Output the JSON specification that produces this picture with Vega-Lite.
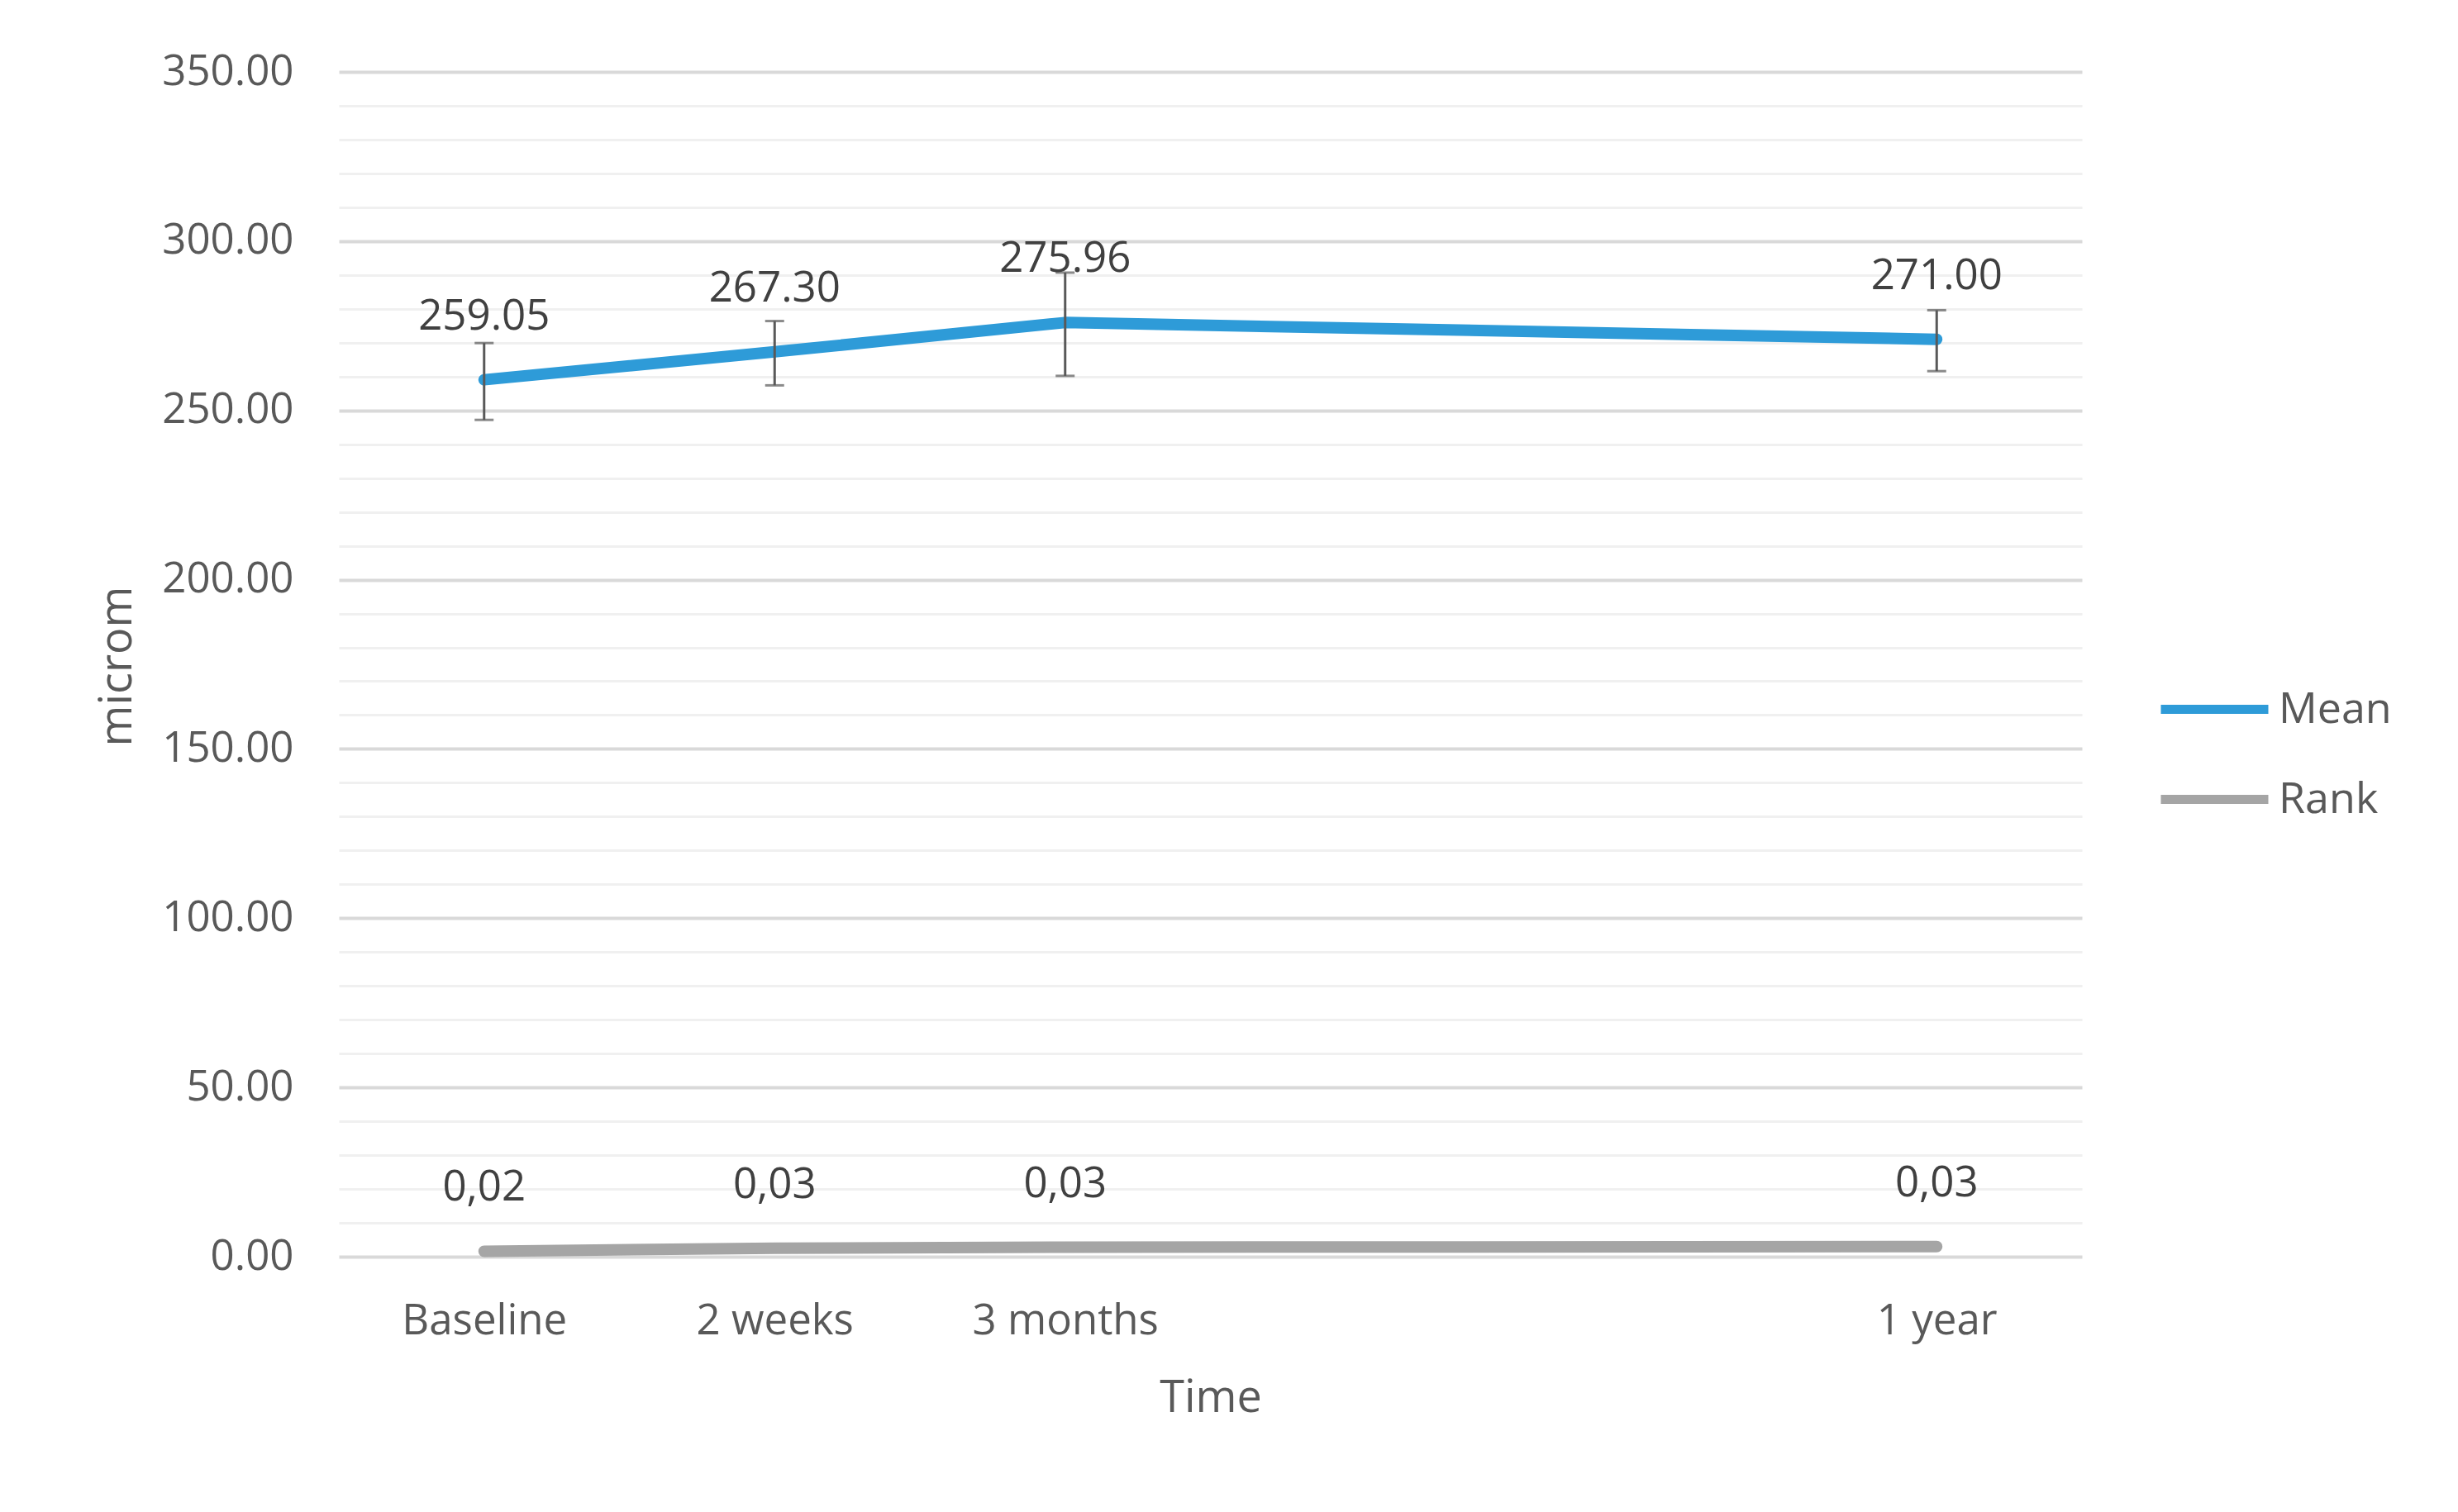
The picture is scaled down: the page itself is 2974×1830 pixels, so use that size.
{
  "$schema": "https://vega.github.io/schema/vega-lite/v6.json",
  "width": 2109,
  "height": 1434,
  "autosize": {"type": "none"},
  "padding": {"left": 410, "top": 87, "right": 455, "bottom": 309},
  "background": "#FFFFFF",
  "config": {
    "font": "Open Sans",
    "view": {"stroke": null},
    "axis": {"labelFont": "Open Sans", "titleFont": "Open Sans"}
  },
  "data": {
    "values": [
      {"time": "Baseline", "series": "Mean", "value": 259.05, "label": "259.05", "lo": 247.2, "hi": 269.9},
      {"time": "2 weeks", "series": "Mean", "value": 267.30, "label": "267.30", "lo": 257.4, "hi": 276.4},
      {"time": "3 months", "series": "Mean", "value": 275.96, "label": "275.96", "lo": 260.2, "hi": 290.7},
      {"time": "1 year", "series": "Mean", "value": 271.00, "label": "271.00", "lo": 261.6, "hi": 279.6},
      {"time": "Baseline", "series": "Rank", "value": 1.6, "label": "0,02"},
      {"time": "2 weeks", "series": "Rank", "value": 2.5, "label": "0,03"},
      {"time": "3 months", "series": "Rank", "value": 2.8, "label": "0,03"},
      {"time": "1 year", "series": "Rank", "value": 3.0, "label": "0,03"}
    ]
  },
  "encoding": {
    "x": {
      "field": "time",
      "type": "ordinal",
      "sort": null,
      "scale": {"type": "point", "domain": ["Baseline", "2 weeks", "3 months", "_4", "_5", "1 year"], "padding": 0.5},
      "axis": {
        "title": "Time",
        "labelExpr": "indexof(datum.value, '_') === 0 ? '' : datum.value",
        "labelAngle": 0,
        "labelLimit": 0,
        "labelFontSize": 51,
        "labelColor": "#595959",
        "labelBaseline": "middle",
        "labelPadding": 78,
        "ticks": false,
        "domain": false,
        "grid": false,
        "titleFontSize": 54,
        "titleFontWeight": "normal",
        "titleColor": "#595959",
        "titleY": 171,
        "titleBaseline": "middle"
      }
    }
  },
  "layer": [
    {
      "mark": {"type": "line", "strokeWidth": 14, "strokeCap": "round", "strokeJoin": "round"},
      "encoding": {
        "y": {
          "field": "value",
          "type": "quantitative",
          "scale": {"domain": [0, 350], "nice": false, "zero": true},
          "axis": {
            "title": "microm",
            "values": [0, 10, 20, 30, 40, 50, 60, 70, 80, 90, 100, 110, 120, 130, 140, 150, 160, 170, 180, 190, 200, 210, 220, 230, 240, 250, 260, 270, 280, 290, 300, 310, 320, 330, 340, 350],
            "labelExpr": "datum.value % 50 === 0 ? format(datum.value, '.2f') : ''",
            "labelFontSize": 51,
            "labelColor": "#595959",
            "labelPadding": 55,
            "ticks": false,
            "domain": false,
            "grid": true,
            "gridColor": {"condition": {"test": "datum.value % 50 === 0", "value": "#D9D9D9"}, "value": "#F0F0F0"},
            "gridWidth": {"condition": {"test": "datum.value % 50 === 0", "value": 4}, "value": 3},
            "titleFontSize": 54,
            "titleFontWeight": "normal",
            "titleColor": "#595959",
            "titleX": -268,
            "titleY": 719,
            "titleAlign": "center",
            "titleBaseline": "middle",
            "titleAngle": -90
          }
        },
        "color": {
          "field": "series",
          "type": "nominal",
          "scale": {"domain": ["Mean", "Rank"], "range": ["#2E9BD8", "#A5A5A5"]},
          "legend": {
            "title": null,
            "orient": "none",
            "legendX": 2214,
            "legendY": 716,
            "padding": 0,
            "symbolType": "M-1.3,0H1.3",
            "symbolSize": 10000,
            "symbolStrokeWidth": 11,
            "symbolFillColor": "transparent",
            "rowPadding": 27,
            "labelOffset": 22,
            "labelFontSize": 52,
            "labelColor": "#595959",
            "labelFont": "Open Sans"
          }
        }
      }
    },
    {
      "transform": [{"filter": "datum.series === 'Mean'"}],
      "mark": {"type": "rule", "strokeWidth": 3, "color": "#595959"},
      "encoding": {
        "y": {"field": "lo", "type": "quantitative"},
        "y2": {"field": "hi"}
      }
    },
    {
      "transform": [{"filter": "datum.series === 'Mean'"}],
      "mark": {"type": "tick", "size": 23, "thickness": 3, "color": "#595959", "orient": "horizontal"},
      "encoding": {
        "y": {"field": "lo", "type": "quantitative"}
      }
    },
    {
      "transform": [{"filter": "datum.series === 'Mean'"}],
      "mark": {"type": "tick", "size": 23, "thickness": 3, "color": "#595959", "orient": "horizontal"},
      "encoding": {
        "y": {"field": "hi", "type": "quantitative"}
      }
    },
    {
      "mark": {"type": "text", "dy": -76, "fontSize": 51, "color": "#404040", "baseline": "middle", "align": "center"},
      "encoding": {
        "y": {"field": "value", "type": "quantitative"},
        "text": {"field": "label", "type": "nominal"}
      }
    }
  ]
}
